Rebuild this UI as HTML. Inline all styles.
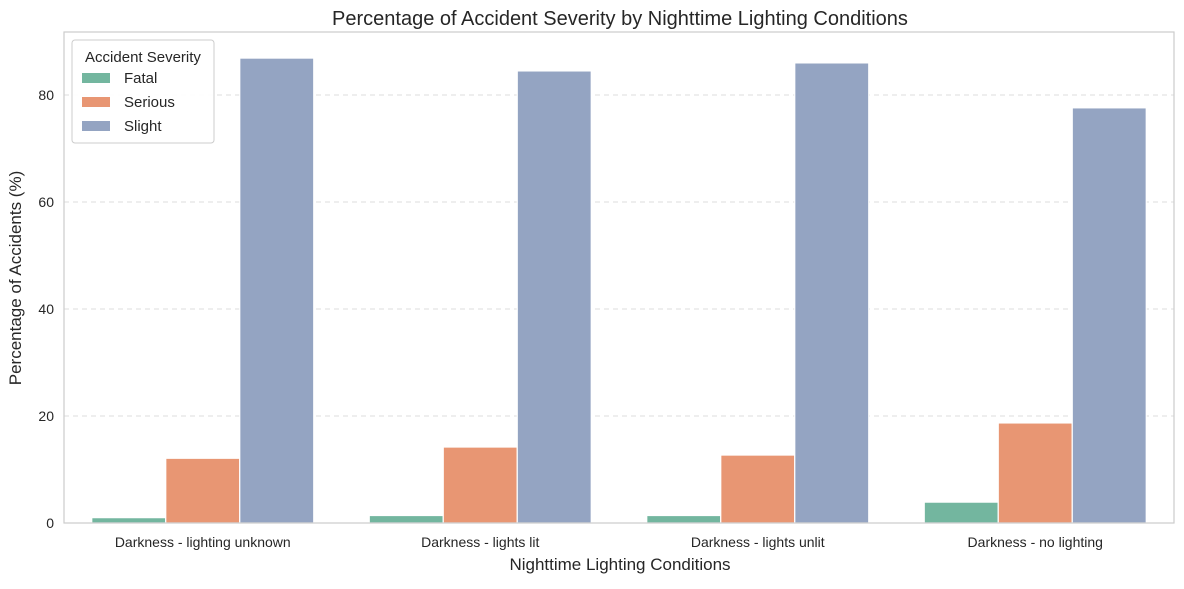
<!DOCTYPE html>
<html><head><meta charset="utf-8"><style>
body{margin:0;background:#fff;font-family:"Liberation Sans","DejaVu Sans",sans-serif}
</style></head><body>
<svg id="chart" width="1184" height="584" xmlns="http://www.w3.org/2000/svg">
<rect width="1184" height="584" fill="#fff"/>
<text x="620" y="25" text-anchor="middle" font-size="20" fill="#262626">Percentage of Accident Severity by Nighttime Lighting Conditions</text>
<g id="grid"></g><g id="bars"></g><g id="ticks"></g>
<rect x="64" y="32" width="1110" height="491" fill="none" stroke="#cccccc" stroke-width="1.2"/>
<text x="620" y="570" text-anchor="middle" font-size="17" fill="#262626">Nighttime Lighting Conditions</text>
<text transform="translate(21,278) rotate(-90)" text-anchor="middle" font-size="17" fill="#262626">Percentage of Accidents (%)</text>
<g>
<rect x="72" y="40" width="142" height="103" rx="3" fill="#fff" fill-opacity="0.9" stroke="#cccccc"/>
<text x="143" y="62" text-anchor="middle" font-size="15" fill="#262626">Accident Severity</text>
<g><rect x="82" y="73" width="28" height="10" fill="#73b69f"/><text x="124" y="83" font-size="15" fill="#262626">Fatal</text></g>
<g><rect x="82" y="97" width="28" height="10" fill="#e89673"/><text x="124" y="107" font-size="15" fill="#262626">Serious</text></g>
<g><rect x="82" y="121" width="28" height="10" fill="#94a4c2"/><text x="124" y="131" font-size="15" fill="#262626">Slight</text></g>
</g>
</svg>
<script>
const categories=["Darkness - lighting unknown","Darkness - lights lit","Darkness - lights unlit","Darkness - no lighting"];
const fatal=[1.0,1.4,1.4,3.9];
const serious=[12.1,14.2,12.7,18.7];
const slight=[86.9,84.5,86.0,77.6];
const yTicks=[0,20,40,60,80];
const series=[{name:"fatal",vals:fatal,color:"#73b69f"},{name:"serious",vals:serious,color:"#e89673"},{name:"slight",vals:slight,color:"#94a4c2"}];
const NS="http://www.w3.org/2000/svg";
const L=64,R=1174,T=32,B=523;
const y=v=>B-v*(428/80);
const band=(R-L)/categories.length;
const x=i=>L+band*i;
const grid=document.getElementById('grid'),bars=document.getElementById('bars'),ticks=document.getElementById('ticks');
function mk(tag,attrs,parent){const e=document.createElementNS(NS,tag);for(const k in attrs)e.setAttribute(k,attrs[k]);parent.appendChild(e);return e;}
yTicks.forEach(t=>{
 if(t>0){const g=mk('line',{x1:L,x2:R,y1:y(t),y2:y(t),stroke:'#dddddd','stroke-dasharray':'5,4'},grid);
 
 }
 const tx=mk('text',{x:L-10,y:y(t)+5,'text-anchor':'end','font-size':14,fill:'#262626'},ticks);
 tx.textContent=t;
 
 
});
const gw=band*0.8,bw=gw/3;
categories.forEach((c,i)=>{
 series.forEach((s,j)=>{
  const bx=x(i)+band*0.1+j*bw;
  const r=mk('rect',{x:bx,y:y(s.vals[i]),width:bw,height:B-y(s.vals[i]),fill:s.color,stroke:'#fff','stroke-width':1.2},bars);
  
  
 });
 const tx=mk('text',{x:x(i)+band/2,y:B+24,'text-anchor':'middle','font-size':14,fill:'#262626'},ticks);
 tx.textContent=c;
 
 
});
</script>
</body></html>
